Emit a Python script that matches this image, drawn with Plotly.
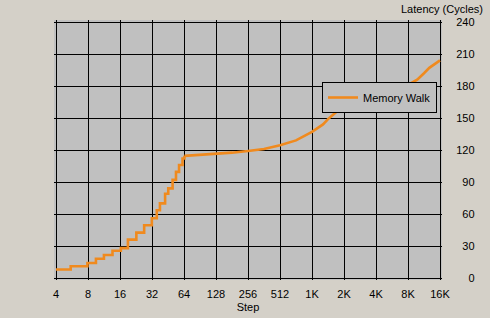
import math
import plotly.graph_objects as go

# ---- data ----
x_tick_vals = [4, 8, 16, 32, 64, 128, 256, 512, 1024, 2048, 4096, 8192, 16384]
x_tick_text = ["4", "8", "16", "32", "64", "128", "256", "512", "1K", "2K", "4K", "8K", "16K"]
y_tick_vals = [0, 30, 60, 90, 120, 150, 180, 210, 240]

# staircase part (small steps)
steps_early = [4, 5.5, 7.9, 9.5, 11.3, 13.6, 16.3, 19, 22.8, 27, 31.9, 35.5, 38, 42.5,
               45.5, 50, 53.8, 57.5, 62, 64.6]
lat_early = [8, 11, 14, 18, 21.5, 25.5, 28, 36, 42.5, 49.5, 56, 63.5, 70, 79,
             84, 92, 99.5, 106, 112, 114.5]

# larger steps
steps_late = [64.6, 80, 128, 181, 256, 362, 512, 724, 1024, 1300, 1448, 1700, 2048,
              2896, 4096, 5793, 8192, 10000, 11585, 13000, 16384]
lat_late = [114.5, 115, 116, 117.5, 119, 121, 124.5, 129, 137, 144, 149, 155, 161,
            167, 172, 177, 181, 186, 192, 197, 204]

series_name = "Memory Walk"
line_color = "#f08a1e"
font_family = "Liberation Sans, Arial, sans-serif"

fig = go.Figure()
fig.add_trace(go.Scatter(x=steps_early, y=lat_early, mode="lines", line_shape="hv",
                         line=dict(color=line_color, width=2.6), name=series_name,
                         legendgroup="mw", showlegend=False, hoverinfo="skip"))
fig.add_trace(go.Scatter(x=steps_late, y=lat_late, mode="lines",
                         line=dict(color=line_color, width=2.6), name=series_name,
                         legendgroup="mw", showlegend=True))

# axis ranges padded by 2px on each side (32 px per octave, 256 px per 240 cycles)
xpad = math.log10(2) / 16
ypad = 240 / 256 * 2
y_tick_text = []
for v in y_tick_vals:
    s = str(v)
    y_tick_text.append("\u00a0" * (2 * (3 - len(s))) + s)

fig.update_layout(
    width=490, height=318,
    margin=dict(l=54, r=48, t=20, b=38, autoexpand=False),
    paper_bgcolor="#d4d0c8",
    plot_bgcolor="#c0c0c0",
    font=dict(family=font_family, size=11, color="black"),
    showlegend=True,
    legend=dict(x=(437 - 54) / 388, xanchor="right", y=(280 - 82) / 260, yanchor="top",
                bgcolor="#c0c0c0", bordercolor="black", borderwidth=1,
                font=dict(size=11, color="black"), itemwidth=30,
                tracegroupgap=0),
    xaxis=dict(type="log", automargin=False,
               range=[math.log10(4) - xpad, math.log10(16384) + xpad],
               tickvals=x_tick_vals, ticktext=x_tick_text,
               showgrid=True, gridcolor="black", gridwidth=1,
               zeroline=False, showline=False,
               ticks="outside", ticklen=4, tickcolor="rgba(0,0,0,0)",
               title=dict(text="Step", standoff=4, font=dict(size=11))),
    yaxis=dict(side="right", automargin=False, range=[-ypad, 240 + ypad],
               tickvals=y_tick_vals, ticktext=y_tick_text,
               showgrid=True, gridcolor="black", gridwidth=1,
               zeroline=False, showline=False,
               ticks="outside", ticklen=11, tickcolor="rgba(0,0,0,0)"),
    annotations=[dict(text="Latency (Cycles)", xref="paper", yref="paper",
                      x=(485 - 54) / 388, y=(280 - 9) / 260, xanchor="right",
                      yanchor="middle", showarrow=False,
                      font=dict(size=11, color="black"))],
)

fig.write_html("out.html")
